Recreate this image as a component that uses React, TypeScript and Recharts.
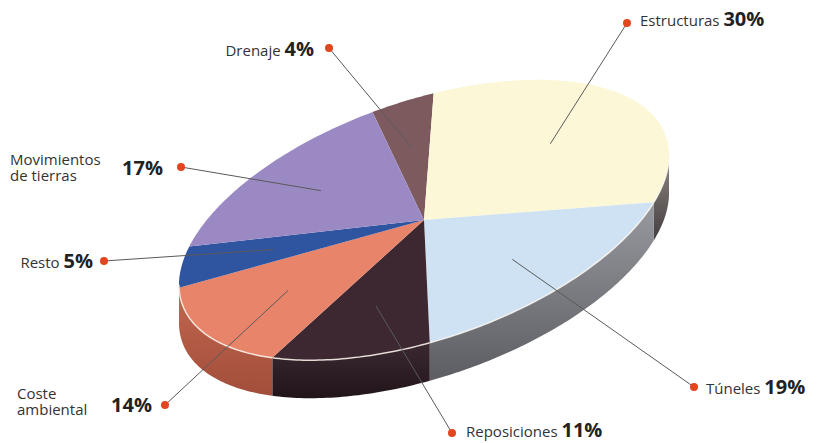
import { Pie, PieChart } from "recharts";

// category names ("\n" = line break in the label)
const categories = [
  "Drenaje",
  "Estructuras",
  "Túneles",
  "Reposiciones",
  "Coste\nambiental",
  "Resto",
  "Movimientos\nde tierras"
];
const shares = [4, 30, 19, 11, 14, 5, 17];

const data = categories.map((name, i) => ({ name, value: shares[i] }));

const TOP_COLORS = ["#7c5a5e", "#fcf7d6", "#cfe2f4", "#3d2831", "#e8846a", "#2f54a0", "#9b89c4"];
const SIDE_COLORS = [
  ["#5a4043", "#3a2a2c"],
  ["#8f8885", "#443e3f"],
  ["#999aa0", "#5c5d63"],
  ["#3a2830", "#21151a"],
  ["#c4664f", "#a14e3a"],
  ["#2a4a8a", "#1c3566"],
  ["#7a6aa0", "#5a4c7e"]
];

// label placement: dot, percent text position, optional name block position
const LABELS = [
  { dot: [329, 48], anchor: "end", x: 314, y: 56 },
  { dot: [627, 23], anchor: "start", x: 640, y: 26 },
  { dot: [694, 387], anchor: "start", x: 706, y: 394 },
  { dot: [452, 433], anchor: "start", x: 466, y: 437 },
  { dot: [165, 405], anchor: "end", x: 152, y: 412, nameX: 17, nameY: 399 },
  { dot: [104, 261], anchor: "end", x: 93, y: 268 },
  { dot: [181, 167], anchor: "end", x: 163, y: 175, nameX: 10, nameY: 165 }
];

const TILT = (19.1 * Math.PI) / 180;
const RATIO = 119 / 256;
const DEPTH = 38;
const FONT = "'Open Sans', sans-serif";

// point on the tilted disc (ellipse) for a recharts angle
function pt(cx: number, cy: number, r: number, deg: number): [number, number] {
  const a = (deg * Math.PI) / 180;
  const u = r * Math.cos(a);
  const w = -r * RATIO * Math.sin(a);
  return [cx + u * Math.cos(TILT) + w * Math.sin(TILT), cy - u * Math.sin(TILT) + w * Math.cos(TILT)];
}

function arc(cx: number, cy: number, r: number, from: number, to: number) {
  const n = Math.max(2, Math.ceil(Math.abs(from - to)) + 1);
  const out: [number, number][] = [];
  for (let i = 0; i < n; i++) out.push(pt(cx, cy, r, from + ((to - from) * i) / (n - 1)));
  return out;
}

// angle of the right-most point; front half runs from there 180deg clockwise
const RIGHT_EDGE = (Math.atan2(-RATIO * Math.sin(TILT), Math.cos(TILT)) * 180) / Math.PI;

function frontRanges(start: number, end: number) {
  const hi0 = Math.max(start, end);
  const lo0 = Math.min(start, end);
  const res: [number, number][] = [];
  for (let k = -2; k <= 1; k++) {
    const h = Math.min(hi0, RIGHT_EDGE + 360 * k);
    const l = Math.max(lo0, RIGHT_EDGE - 180 + 360 * k);
    if (h > l) res.push([h, l]);
  }
  return res;
}

const toD = (pts: [number, number][]) => pts.map((p) => `${p[0].toFixed(2)},${p[1].toFixed(2)}`).join("L");

function renderSolid(props: any) {
  const { cx, cy, outerRadius, startAngle, endAngle, index } = props;
  const top = arc(cx, cy, outerRadius, startAngle, endAngle);
  const sides = frontRanges(startAngle, endAngle);
  return (
    <g key={`solid-${index}`}>
      <defs>
        <linearGradient id={`side-${index}`} x1="0" y1="0" x2="0" y2="1">
          <stop offset="0%" stopColor={SIDE_COLORS[index][0]} />
          <stop offset="100%" stopColor={SIDE_COLORS[index][1]} />
        </linearGradient>
      </defs>
      {sides.map(([h, l], k) => {
        const a = arc(cx, cy, outerRadius, h, l);
        const b = a.slice().reverse().map((p) => [p[0], p[1] + DEPTH] as [number, number]);
        return <path key={k} d={`M${toD(a)}L${toD(b)}Z`} fill={`url(#side-${index})`} />;
      })}
      <path d={`M${cx},${cy}L${toD(top)}Z`} fill={TOP_COLORS[index]} />
      {sides.map(([h, l], k) => (
        <path
          key={`rim${k}`}
          d={`M${toD(arc(cx, cy, outerRadius, h, l))}`}
          fill="none"
          stroke="#fbf6ee"
          strokeWidth={1.5}
          strokeOpacity={0.85}
        />
      ))}
    </g>
  );
}

function renderLabel(props: any) {
  const { cx, cy, outerRadius, midAngle, index, name, value } = props;
  const lay = LABELS[index];
  const [ix, iy] = pt(cx, cy, outerRadius * 0.62, midAngle);
  const lines = String(name).split("\n");
  const pct = `${value}%`;
  return (
    <g key={`lab-${index}`}>
      <line x1={ix} y1={iy} x2={lay.dot[0]} y2={lay.dot[1]} stroke="#5a5a5a" strokeWidth={1} />
      <circle cx={lay.dot[0]} cy={lay.dot[1]} r={4} fill="#e2461e" />
      {lines.length === 1 ? (
        <text x={lay.x} y={lay.y} textAnchor={lay.anchor} fontFamily={FONT} fill="#333">
          <tspan fontSize={15}>{lines[0]} </tspan>
          <tspan fontSize={20} fontWeight="bold" fill="#222">
            {pct}
          </tspan>
        </text>
      ) : (
        <g>
          {lines.map((l, i) => (
            <text key={i} x={lay.nameX} y={(lay.nameY as number) + i * 16} fontFamily={FONT} fontSize={15} fill="#333">
              {l}
            </text>
          ))}
          <text x={lay.x} y={lay.y} textAnchor={lay.anchor} fontFamily={FONT} fontSize={20} fontWeight="bold" fill="#222">
            {pct}
          </text>
        </g>
      )}
    </g>
  );
}

export default function App() {
  return (
    <div style={{ width: 821, height: 443, background: "#fff" }}>
      <style>{"body{margin:0}"}</style>
      <PieChart width={821} height={443} margin={{ top: 0, right: 0, bottom: 0, left: 0 }}>
        <Pie
          data={data}
          dataKey="value"
          nameKey="name"
          cx={424}
          cy={220}
          outerRadius={256}
          startAngle={93}
          endAngle={-267}
          fill="transparent"
          stroke="none"
          label={renderSolid}
          labelLine={false}
          isAnimationActive={false}
        />
        <Pie
          data={data}
          dataKey="value"
          nameKey="name"
          cx={424}
          cy={220}
          outerRadius={256}
          startAngle={93}
          endAngle={-267}
          fill="transparent"
          stroke="none"
          label={renderLabel}
          labelLine={false}
          isAnimationActive={false}
        />
      </PieChart>
    </div>
  );
}
